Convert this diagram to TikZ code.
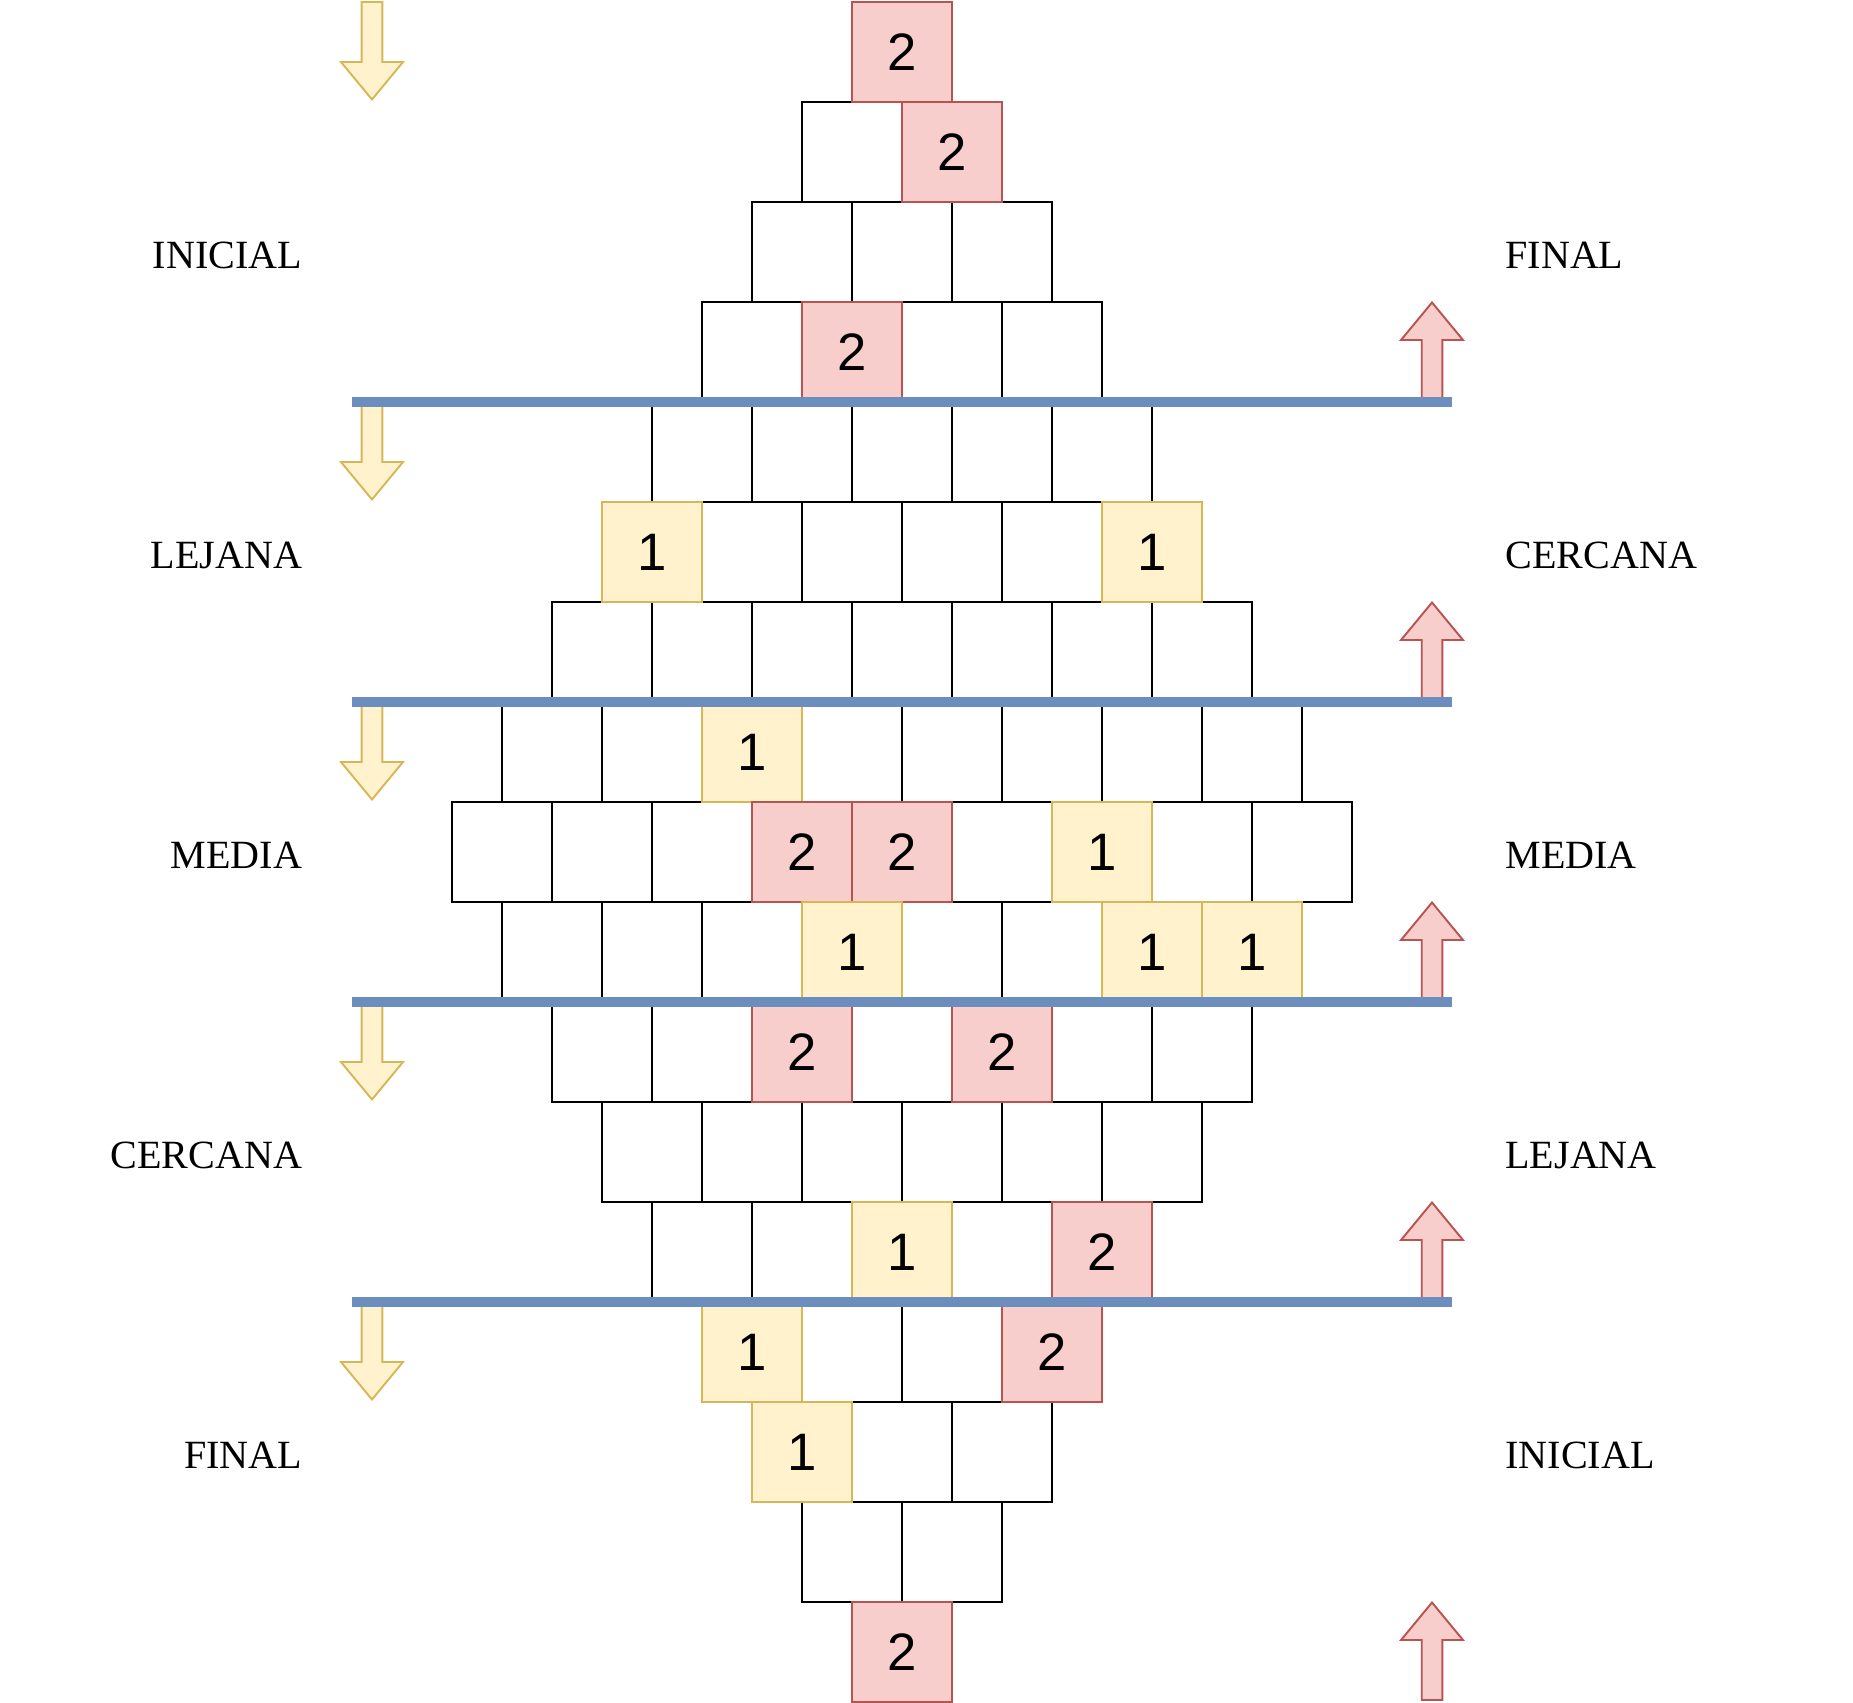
\documentclass[tikz,border=0pt]{standalone}
\usepackage{fontspec}
\setmainfont{Liberation Serif}
\newfontfamily\digitfont{Liberation Sans}
\definecolor{yfill}{HTML}{FFF2CC}
\definecolor{ystroke}{HTML}{D6B656}
\definecolor{pfill}{HTML}{F8CECC}
\definecolor{pstroke}{HTML}{B85450}
\definecolor{bline}{HTML}{6C8EBF}
\newcommand\setcell[4]{%
  \expandafter\def\csname cc-#1-#2\endcsname{#3}%
  \expandafter\def\csname ct-#1-#2\endcsname{#4}}
% coloured cells: row, half-column index, style, text
\setcell{1}{8}{pcell}{2}
\setcell{2}{9}{pcell}{2}
\setcell{4}{7}{pcell}{2}
\setcell{6}{3}{ycell}{1}
\setcell{6}{13}{ycell}{1}
\setcell{8}{5}{ycell}{1}
\setcell{9}{6}{pcell}{2}
\setcell{9}{8}{pcell}{2}
\setcell{9}{12}{ycell}{1}
\setcell{10}{7}{ycell}{1}
\setcell{10}{13}{ycell}{1}
\setcell{10}{15}{ycell}{1}
\setcell{11}{6}{pcell}{2}
\setcell{11}{10}{pcell}{2}
\setcell{13}{8}{ycell}{1}
\setcell{13}{12}{pcell}{2}
\setcell{14}{5}{ycell}{1}
\setcell{14}{11}{pcell}{2}
\setcell{15}{6}{ycell}{1}
\setcell{17}{8}{pcell}{2}
\begin{document}
\begin{tikzpicture}[x=1cm,y=1cm,
  cellbox/.style={draw=black, line width=0.45pt, fill=white,
    minimum width=1cm, minimum height=1cm, inner sep=0pt, outer sep=0pt,
    anchor=north west, font=\digitfont\fontsize{15}{17}\selectfont},
  wcell/.style={cellbox},
  ycell/.style={cellbox, fill=yfill, draw=ystroke},
  pcell/.style={cellbox, fill=pfill, draw=pstroke},
  lbl/.style={font=\fontsize{11.4}{13.7}\selectfont, inner sep=0pt, outer sep=0pt},
  sepline/.style={draw=bline, line width=2.85pt},
  yarrowstyle/.style={fill=yfill, draw=ystroke, line width=0.55pt, line join=miter},
  parrowstyle/.style={fill=pfill, draw=pstroke, line width=0.55pt, line join=miter},
  yarrow/.pic={\path[yarrowstyle] (-0.103,0) -- (0.103,0) -- (0.103,-0.60) -- (0.31,-0.60)
      -- (0,-0.975) -- (-0.31,-0.60) -- (-0.103,-0.60) -- cycle;},
  parrow/.pic={\path[parrowstyle] (-0.103,0) -- (0.103,0) -- (0.103,0.60) -- (0.31,0.60)
      -- (0,0.975) -- (-0.31,0.60) -- (-0.103,0.60) -- cycle;}
]
\useasboundingbox (0,0) rectangle (18.53,-17.03);

% white cells
\foreach \r in {1,...,17}{
  \pgfmathtruncatemacro\n{\r<=9 ? \r : 18-\r}
  \foreach \i in {1,...,\n}{
    \pgfmathtruncatemacro\h{9-\n+2*(\i-1)}
    \pgfmathsetmacro\x{4.52+0.5*\h}
    \pgfmathsetmacro\y{-0.02-(\r-1)}
    \ifcsname cc-\r-\h\endcsname\else
      \edef\cmd{\noexpand\node[wcell] (c-\r-\h) at (\x,\y) {};}\cmd
    \fi
  }
}
% coloured cells
\foreach \r in {1,...,17}{
  \pgfmathtruncatemacro\n{\r<=9 ? \r : 18-\r}
  \foreach \i in {1,...,\n}{
    \pgfmathtruncatemacro\h{9-\n+2*(\i-1)}
    \pgfmathsetmacro\x{4.52+0.5*\h}
    \pgfmathsetmacro\y{-0.02-(\r-1)}
    \ifcsname cc-\r-\h\endcsname
      \edef\cmd{\noexpand\node[\csname cc-\r-\h\endcsname] (c-\r-\h) at (\x,\y) {\csname ct-\r-\h\endcsname};}\cmd
    \fi
  }
}

% arrows
\pic (ya1) at (3.72,-0.02) {yarrow};
\pic (ya2) at (3.72,-4.02) {yarrow};
\pic (ya3) at (3.72,-7.02) {yarrow};
\pic (ya4) at (3.72,-10.02) {yarrow};
\pic (ya5) at (3.72,-13.02) {yarrow};
\pic (pa1) at (14.32,-4.00) {parrow};
\pic (pa2) at (14.32,-7.00) {parrow};
\pic (pa3) at (14.32,-10.00) {parrow};
\pic (pa4) at (14.32,-13.00) {parrow};
\pic (pa5) at (14.32,-17.00) {parrow};

% separator lines
\coordinate (s1a) at (3.52,-4.02); \coordinate (s1b) at (14.52,-4.02);
\coordinate (s2a) at (3.52,-7.02); \coordinate (s2b) at (14.52,-7.02);
\coordinate (s3a) at (3.52,-10.02); \coordinate (s3b) at (14.52,-10.02);
\coordinate (s4a) at (3.52,-13.02); \coordinate (s4b) at (14.52,-13.02);
\draw[sepline] (s1a) -- (s1b);
\draw[sepline] (s2a) -- (s2b);
\draw[sepline] (s3a) -- (s3b);
\draw[sepline] (s4a) -- (s4b);

% labels
\node[lbl, anchor=base east] (l1) at (3.02,-2.683) {INICIAL};
\node[lbl, anchor=base east] (l2) at (3.02,-5.683) {LEJANA};
\node[lbl, anchor=base east] (l3) at (3.02,-8.683) {MEDIA};
\node[lbl, anchor=base east] (l4) at (3.02,-11.683) {CERCANA};
\node[lbl, anchor=base east] (l5) at (3.02,-14.683) {FINAL};
\node[lbl, anchor=base west] (r1) at (15.055,-2.683) {FINAL};
\node[lbl, anchor=base west] (r2) at (15.055,-5.683) {CERCANA};
\node[lbl, anchor=base west] (r3) at (15.055,-8.683) {MEDIA};
\node[lbl, anchor=base west] (r4) at (15.055,-11.683) {LEJANA};
\node[lbl, anchor=base west] (r5) at (15.055,-14.683) {INICIAL};
\end{tikzpicture}
\end{document}
